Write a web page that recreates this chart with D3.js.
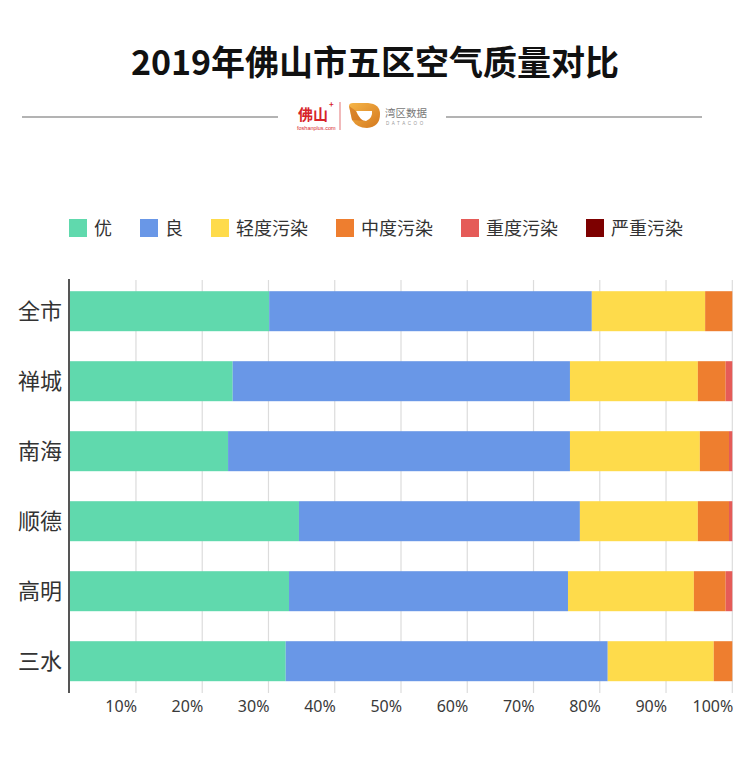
<!DOCTYPE html>
<html>
<head>
<meta charset="utf-8">
<script src="https://cdn.jsdelivr.net/npm/d3@7"></script>
<style>
  body{margin:0;background:#fff;}
  svg{display:block;font-family:"Noto Sans CJK SC","Noto Sans",sans-serif;}
</style>
</head>
<body>
<svg id="chart"></svg>
<script>
// data (percent of days)
var districts=["全市","禅城","南海","顺德","高明","三水"]
var levels=["优","良","轻度污染","中度污染","重度污染","严重污染"]
var colors=["#60d9ad","#6997e7","#fedb4b","#ee7e2f","#e55b58","#7d0000"]
var you  =[30.1,24.6,23.9,34.6,33.1,32.6]
var liang=[48.7,50.9,51.6,42.4,42.1,48.6]
var qing =[17.1,19.3,19.6,17.8,19.0,16.0]
var zhong=[4.1,4.2,4.4,4.7,4.8,2.8]
var zhongdu=[0,1.0,0.5,0.5,1.0,0]
var yanzhong=[0,0,0,0,0,0]
var ticks=[10,20,30,40,50,60,70,80,90,100]

var screen={width:750,height:763}
var svg=d3.select("#chart")
          .attr("width",screen.width)
          .attr("height",screen.height)

// title
svg.append("text")
   .attr("x",375).attr("y",75)
   .attr("text-anchor","middle")
   .attr("font-size",34).attr("font-weight","bold")
   .attr("fill","#111")
   .text("2019年佛山市五区空气质量对比")

// separator lines + logo
svg.append("line").attr("x1",22).attr("x2",278).attr("y1",117).attr("y2",117)
   .attr("stroke","#9a9a9a").attr("stroke-width",1.5)
svg.append("line").attr("x1",446).attr("x2",702).attr("y1",117).attr("y2",117)
   .attr("stroke","#9a9a9a").attr("stroke-width",1.5)

var logo=svg.append("g")
logo.append("text").attr("x",298).attr("y",120)
    .attr("font-size",15).attr("font-weight","bold").attr("fill","#d7242a")
    .attr("font-family","'Noto Sans CJK SC'")
    .text("佛山")
logo.append("text").attr("x",329).attr("y",107)
    .attr("font-size",8).attr("font-weight","bold").attr("fill","#d7242a").text("+")
logo.append("text").attr("x",297).attr("y",130)
    .attr("font-size",5.5).attr("fill","#d7242a").attr("font-family","'Liberation Sans'")
    .text("foshanplus.com")
logo.append("line").attr("x1",340).attr("x2",340).attr("y1",102).attr("y2",130)
    .attr("stroke","#e88a8c").attr("stroke-width",1.2)

var defs=svg.append("defs")
var grad=defs.append("linearGradient").attr("id","gold")
             .attr("x1","0").attr("y1","0").attr("x2","1").attr("y2","1")
grad.append("stop").attr("offset","0%").attr("stop-color","#f6b648")
grad.append("stop").attr("offset","100%").attr("stop-color","#d4781e")
logo.append("path")
    .attr("d","M349,106 Q349,103 353,103 L368,103 Q380,104 380,114 Q380,127 367,128 Q357,128 352,120 Z")
    .attr("fill","url(#gold)")
logo.append("path")
    .attr("d","M356,111 L372,111 Q373,118 366,121 Q360,121 356,111 Z")
    .attr("fill","#fff")
logo.append("path")
    .attr("d","M349,106 L356,111 Q360,121 366,121 L352,120 Z")
    .attr("fill","#c9661a").attr("opacity",0.55)
logo.append("text").attr("x",385).attr("y",117)
    .attr("font-size",10.5).attr("fill","#777").text("湾区数据")
logo.append("text").attr("x",386).attr("y",125)
    .attr("font-size",4.5).attr("fill","#999").attr("letter-spacing",2.6)
    .attr("font-family","'Liberation Sans'").text("DATACOO")

// legend
var legend=svg.append("g").attr("class","legend")
var lx=69
levels.forEach(function(name,i)
{
  var item=legend.append("g").attr("transform","translate("+lx+",219)")
  item.append("rect").attr("width",18).attr("height",18).attr("fill",colors[i])
  var t=item.append("text").attr("x",25).attr("y",15.5)
            .attr("font-size",18).attr("fill","#333").text(name)
  lx+=25+t.node().getComputedTextLength()+28
})

// scales
var x=d3.scaleLinear().domain([0,100]).range([69.7,732.3])
var y=d3.scaleBand().domain(districts).range([280,692.4])
        .paddingInner(30/70).paddingOuter(0.16)

// gridlines
svg.append("g").selectAll("line")
   .data(ticks).enter().append("line")
   .attr("x1",function(d){return x(d);})
   .attr("x2",function(d){return x(d);})
   .attr("y1",280).attr("y2",693)
   .attr("stroke","#dcdcdc").attr("stroke-width",1.2)

// stacked bars
var rows=districts.map(function(name,i)
{
  return {name:name,"优":you[i],"良":liang[i],"轻度污染":qing[i],
          "中度污染":zhong[i],"重度污染":zhongdu[i],"严重污染":yanzhong[i]}
})
var stack=d3.stack().keys(levels)(rows)

svg.append("g").selectAll("g")
   .data(stack).enter().append("g")
   .attr("fill",function(d,i){return colors[i];})
   .selectAll("rect")
   .data(function(d){return d;})
   .enter().append("rect")
   .attr("x",function(d){return x(d[0]);})
   .attr("width",function(d){return Math.max(0,x(Math.min(100,d[1]))-x(d[0]));})
   .attr("y",function(d){return y(d.data.name);})
   .attr("height",y.bandwidth())

// category labels
svg.append("g").selectAll("text")
   .data(districts).enter().append("text")
   .attr("x",62)
   .attr("y",function(d){return y(d)+y.bandwidth()/2+8;})
   .attr("text-anchor","end")
   .attr("font-size",22).attr("fill","#333")
   .text(function(d){return d;})

// tick labels
svg.append("g").selectAll("text")
   .data(ticks).enter().append("text")
   .attr("x",function(d){return x(d)+1;})
   .attr("y",712)
   .attr("text-anchor","end")
   .attr("font-size",16).attr("fill","#3a3a3a")
   .attr("font-family","'Noto Sans'")
   .text(function(d){return d+"%";})

// y axis line
svg.append("line").attr("x1",69).attr("x2",69).attr("y1",279).attr("y2",693)
   .attr("stroke","#555").attr("stroke-width",2)
</script>
</body>
</html>
